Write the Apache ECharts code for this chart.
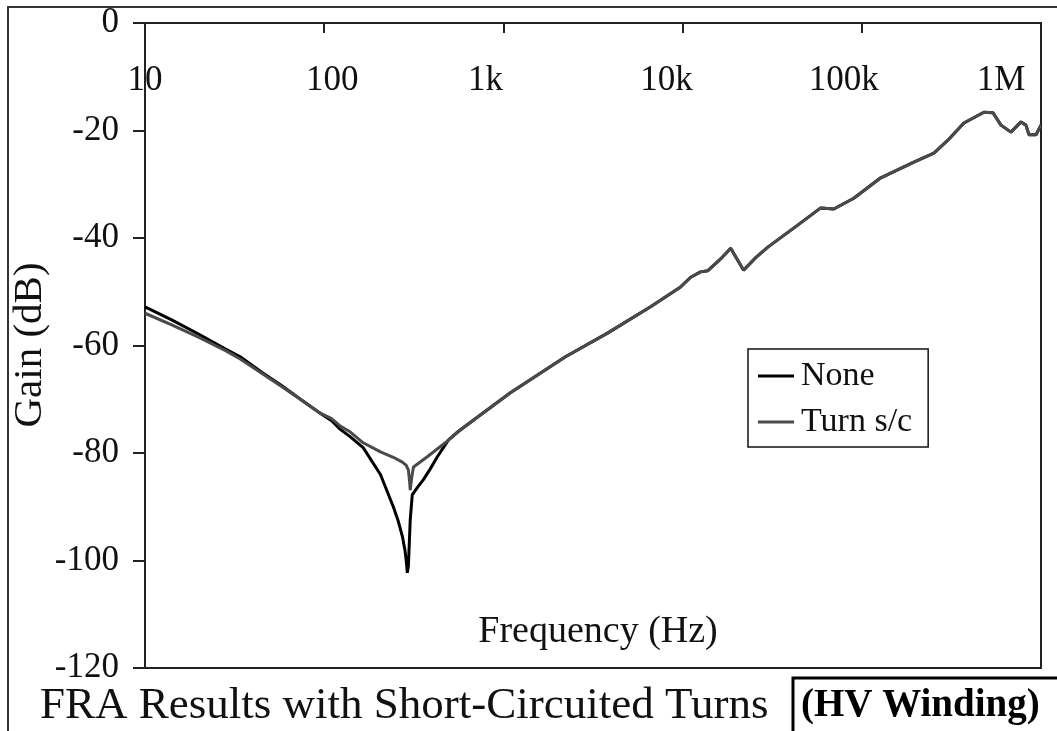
<!DOCTYPE html>
<html>
<head>
<meta charset="utf-8">
<script src="https://cdn.jsdelivr.net/npm/echarts@6/dist/echarts.min.js"></script>
<style>
  html, body { margin: 0; padding: 0; background: #fff; }
  #chart { width: 1057px; height: 731px; }
</style>
</head>
<body>
<div id="chart"></div>
<script>
// Frequency response (gain vs. frequency) for the HV winding, healthy and with shorted turns.
const freqNone = [10, 14, 20, 28, 34, 45, 57, 75, 95, 110, 123, 140, 165, 206, 243, 258, 273, 282, 287, 291, 295, 302, 310, 330, 357, 390, 428, 493, 560, 679, 1094, 2220, 3811, 6625, 9750, 11100, 12600, 13800, 16300, 18550, 21900, 25500, 29900, 43900, 59000, 69800, 90200, 127600, 195300, 252600, 302300, 371300, 480500, 539500, 598000, 679500, 773000, 824000, 857000, 938000, 1000000];
const gainNone = [-52.8, -55.2, -57.9, -60.6, -62.1, -65.0, -67.3, -70.2, -72.6, -74.0, -75.6, -77.0, -79.0, -84.0, -90.0, -92.5, -95.5, -98.0, -100.0, -102.3, -101.0, -92.5, -87.8, -86.5, -85.0, -83.0, -80.7, -77.6, -76.0, -73.9, -68.8, -62.1, -57.7, -52.8, -49.1, -47.3, -46.3, -46.1, -43.9, -41.9, -46.0, -43.7, -41.7, -37.6, -34.4, -34.6, -32.6, -28.8, -25.9, -24.2, -21.8, -18.6, -16.6, -16.7, -19.0, -20.3, -18.4, -19.0, -20.8, -20.8, -19.0];

const freqTurn = [10, 14, 20, 28, 34, 45, 57, 75, 95, 110, 123, 140, 165, 206, 243, 273, 287, 295, 300, 302, 308, 315, 376, 474, 493, 560, 679, 1094, 2220, 3811, 6625, 9750, 11100, 12600, 13800, 16300, 18550, 21900, 25500, 29900, 43900, 59000, 69800, 90200, 127600, 195300, 252600, 302300, 371300, 480500, 539500, 598000, 679500, 773000, 824000, 857000, 938000, 1000000];
const gainTurn = [-54.0, -56.1, -58.5, -60.9, -62.5, -65.2, -67.5, -70.2, -72.6, -73.6, -75.0, -76.1, -78.1, -79.8, -80.8, -81.7, -82.3, -83.2, -85.5, -86.9, -84.5, -82.6, -80.7, -78.1, -77.6, -76.0, -73.9, -68.8, -62.1, -57.7, -52.8, -49.1, -47.3, -46.3, -46.1, -43.9, -41.9, -46.0, -43.7, -41.7, -37.6, -34.4, -34.6, -32.6, -28.8, -25.9, -24.2, -21.8, -18.6, -16.6, -16.7, -19.0, -20.3, -18.4, -19.0, -20.8, -20.8, -19.0];

const seriesNames = ['None', 'Turn s/c'];
const freqTickLabels = { 10: '10', 100: '100', 1000: '1k', 10000: '10k', 100000: '100k', 1000000: '1M' };
// horizontal nudge of each decade label relative to its tick (px)
const freqLabelShift = { 10: 0, 100: 8, 1000: -18, 10000: -16, 100000: -18, 1000000: -40 };

const SERIF = '"Liberation Serif", "Times New Roman", serif';

function pairs(xs, ys) { return xs.map((x, i) => [x, ys[i]]); }

const richStyles = {};
Object.keys(freqTickLabels).forEach(k => {
  const d = freqLabelShift[k];
  richStyles['t' + k] = {
    fontFamily: SERIF, fontSize: 35, color: '#111',
    padding: d >= 0 ? [0, 0, 0, 2 * d] : [0, -2 * d, 0, 0]
  };
});

const chart = echarts.init(document.getElementById('chart'), null, { renderer: 'canvas' });

chart.setOption({
  backgroundColor: '#ffffff',
  animation: false,
  grid: {
    left: 145, right: 16, top: 23, bottom: 63,
    show: true, borderColor: '#222', borderWidth: 2, backgroundColor: 'transparent'
  },
  xAxis: {
    type: 'log', logBase: 10, min: 10, max: 1000000,
    position: 'top',
    axisLine: { show: true, lineStyle: { color: '#222', width: 2 } },
    axisTick: { show: true, inside: true, length: 10, lineStyle: { color: '#222', width: 2 } },
    minorTick: { show: false },
    splitLine: { show: false },
    axisLabel: {
      inside: true, margin: 40, showMinLabel: true, showMaxLabel: true,
      formatter: v => {
        const key = Math.round(v);
        const txt = freqTickLabels[key];
        return txt ? '{t' + key + '|' + txt + '}' : '';
      },
      rich: richStyles
    }
  },
  yAxis: {
    type: 'value', min: -120, max: 0, interval: 20,
    axisLine: { show: true, lineStyle: { color: '#222', width: 2 } },
    axisTick: { show: true, inside: false, length: 12, lineStyle: { color: '#222', width: 2 } },
    splitLine: { show: false },
    axisLabel: { margin: 26, fontFamily: SERIF, fontSize: 35, color: '#111' }
  },
  legend: {
    data: seriesNames,
    orient: 'vertical',
    left: 748, top: 349,
    padding: [10, 16, 8, 10],
    itemGap: 12,
    icon: 'path://M0 0H36V3H0Z',
    itemWidth: 36, itemHeight: 3,
    borderColor: '#111', borderWidth: 1.5,
    backgroundColor: '#fff',
    textStyle: { fontFamily: SERIF, fontSize: 34, color: '#111', padding: [0, 0, 0, 2] }
  },
  series: [
    {
      name: seriesNames[0], type: 'line', data: pairs(freqNone, gainNone),
      symbol: 'none', smooth: false,
      lineStyle: { color: '#000000', width: 3 }, itemStyle: { color: '#000000' }
    },
    {
      name: seriesNames[1], type: 'line', data: pairs(freqTurn, gainTurn),
      symbol: 'none', smooth: false,
      lineStyle: { color: '#4a4a4a', width: 3 }, itemStyle: { color: '#4a4a4a' }
    }
  ],
  graphic: [
    { type: 'rect', shape: { x: 8, y: 7, width: 1100, height: 800 },
      style: { fill: 'none', stroke: '#333', lineWidth: 2 }, z: -1 },
    { type: 'text', x: 598, y: 632,
      style: { text: 'Frequency (Hz)', font: '38px ' + SERIF, fill: '#111', textAlign: 'center', textVerticalAlign: 'middle' } },
    { type: 'text', x: 30, y: 345, rotation: Math.PI / 2,
      style: { text: 'Gain (dB)', font: '41px ' + SERIF, fill: '#111', textAlign: 'center', textVerticalAlign: 'middle' } },
    { type: 'text', x: 40, y: 706,
      style: { text: 'FRA Results with Short-Circuited Turns', font: '45px ' + SERIF, fill: '#111', textAlign: 'left', textVerticalAlign: 'middle' } },
    { type: 'rect', shape: { x: 793, y: 678, width: 300, height: 100 },
      style: { fill: '#fff', stroke: '#000', lineWidth: 3 } },
    { type: 'text', x: 801, y: 706,
      style: { text: '(HV Winding)', font: 'bold 39px ' + SERIF, fill: '#000', textAlign: 'left', textVerticalAlign: 'middle' } }
  ]
});
</script>
</body>
</html>
